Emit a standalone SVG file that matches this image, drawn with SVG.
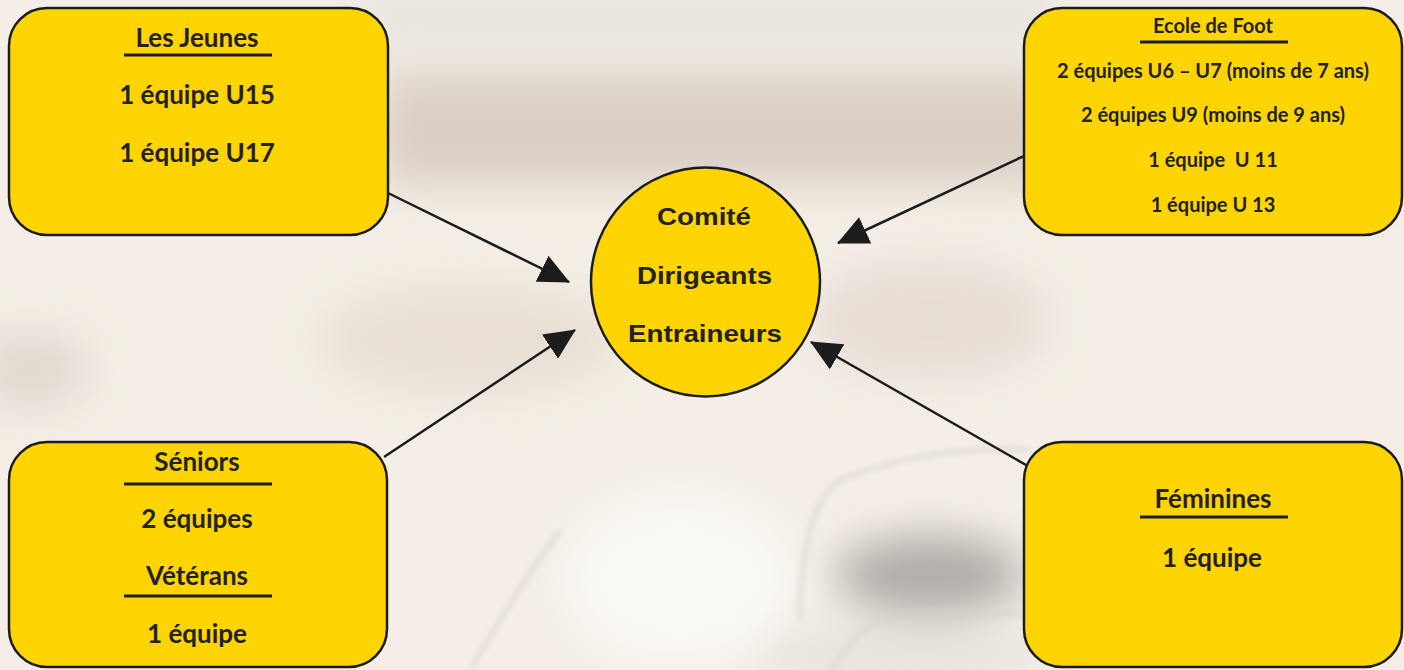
<svg xmlns="http://www.w3.org/2000/svg" width="1404" height="670" viewBox="0 0 1404 670">
  <style>
    .box { fill: #FED403; stroke: #1c1c1c; stroke-width: 2.5; }
    .t { font-family: Lato, "Liberation Sans", sans-serif; font-weight: bold; fill: #222222; text-anchor: middle; }
    .big { font-size: 26px; }
    .small { font-size: 20px; }
    .ctr { font-family: "Liberation Sans", Arial, sans-serif; font-weight: bold; font-size: 24px; fill: #222222; text-anchor: middle; }
    .ul { stroke: #1c1c1c; stroke-width: 3; }
    .conn { stroke: #1c1c1c; stroke-width: 2.5; fill: none; marker-end: url(#arr); }
  </style>
  <defs>
    <marker id="arr" markerUnits="userSpaceOnUse" viewBox="0 0 31 29" markerWidth="31" markerHeight="29" refX="30" refY="14.5" orient="auto">
      <path d="M0,0 L31,14.5 L0,29 z" fill="#1c1c1c"/>
    </marker>
    <filter id="blur" x="-30%" y="-30%" width="160%" height="160%">
      <feGaussianBlur stdDeviation="22"/>
    </filter>
    <filter id="blur2" x="-20%" y="-20%" width="140%" height="140%">
      <feGaussianBlur stdDeviation="3"/>
    </filter>
  </defs>

  <!-- background -->
  <g id="background">
    <rect x="0" y="0" width="1404" height="670" fill="#f4eee6"/>
    <g filter="url(#blur)">
      <rect x="360" y="-20" width="700" height="70" fill="#e9e5df"/>
      <rect x="380" y="75" width="680" height="110" fill="#d9cfc5"/>
      <ellipse cx="470" cy="340" rx="150" ry="55" fill="#e8dfd5"/>
      <ellipse cx="930" cy="320" rx="120" ry="60" fill="#e6ddd5"/>
      <ellipse cx="30" cy="370" rx="60" ry="40" fill="#e2d9d1"/>
      <ellipse cx="930" cy="575" rx="95" ry="40" fill="#b2aca8"/>
      <ellipse cx="680" cy="580" rx="110" ry="80" fill="#fbfaf7"/>
      <ellipse cx="900" cy="655" rx="150" ry="25" fill="#e6e1db"/>
    </g>
    <g filter="url(#blur2)" fill="none" stroke="#d6d0ca" stroke-width="3">
      <path d="M800,620 C800,560 810,500 840,480 C890,460 960,445 1030,450"/>
      <path d="M470,670 C500,620 530,570 560,530"/>
      <path d="M830,675 C850,640 860,625 900,615 C950,610 990,612 1030,615"/>
    </g>
  </g>

  <g id="connectors">
    <line class="conn" x1="388" y1="193" x2="569" y2="282"/>
    <line class="conn" x1="384" y1="457" x2="575" y2="330"/>
    <line class="conn" x1="1024" y1="156" x2="838" y2="243"/>
    <line class="conn" x1="1026" y1="465" x2="811" y2="342"/>
  </g>

  <g id="les-jeunes">
    <rect class="box" x="9" y="8" width="379" height="227" rx="38" ry="38"/>
    <text class="t big" x="197" y="47">Les Jeunes</text>
    <line class="ul" x1="124" y1="55" x2="272" y2="55"/>
    <text class="t big" x="197" y="104">1 équipe U15</text>
    <text class="t big" x="197" y="162">1 équipe U17</text>
  </g>

  <g id="ecole-de-foot">
    <rect class="box" x="1024" y="8" width="378" height="227" rx="38" ry="38"/>
    <text class="t small" x="1213" y="33">Ecole de Foot</text>
    <line class="ul" x1="1140" y1="42" x2="1288" y2="42"/>
    <text class="t small" x="1213" y="78">2 équipes U6 – U7 (moins de 7 ans)</text>
    <text class="t small" x="1213" y="122">2 équipes U9 (moins de 9 ans)</text>
    <text class="t small" x="1213" y="167" xml:space="preserve">1 équipe  U 11</text>
    <text class="t small" x="1213" y="212">1 équipe U 13</text>
  </g>

  <g id="seniors">
    <rect class="box" x="9" y="442" width="378" height="225" rx="38" ry="38"/>
    <text class="t big" x="197" y="471">Séniors</text>
    <line class="ul" x1="124" y1="484" x2="272" y2="484"/>
    <text class="t big" x="197" y="528">2 équipes</text>
    <text class="t big" x="197" y="585">Vétérans</text>
    <line class="ul" x1="124" y1="596" x2="272" y2="596"/>
    <text class="t big" x="197" y="643">1 équipe</text>
  </g>

  <g id="feminines">
    <rect class="box" x="1024" y="442" width="378" height="225" rx="38" ry="38"/>
    <text class="t big" x="1213" y="508">Féminines</text>
    <line class="ul" x1="1140" y1="517" x2="1288" y2="517"/>
    <text class="t big" x="1212" y="567">1 équipe</text>
  </g>

  <g id="comite">
    <circle class="box" cx="705.5" cy="282" r="114.5"/>
    <text class="ctr" x="704" y="225" textLength="94" lengthAdjust="spacingAndGlyphs">Comité</text>
    <text class="ctr" x="704.5" y="284" textLength="135" lengthAdjust="spacingAndGlyphs">Dirigeants</text>
    <text class="ctr" x="705" y="342" textLength="154" lengthAdjust="spacingAndGlyphs">Entraineurs</text>
  </g>
</svg>
